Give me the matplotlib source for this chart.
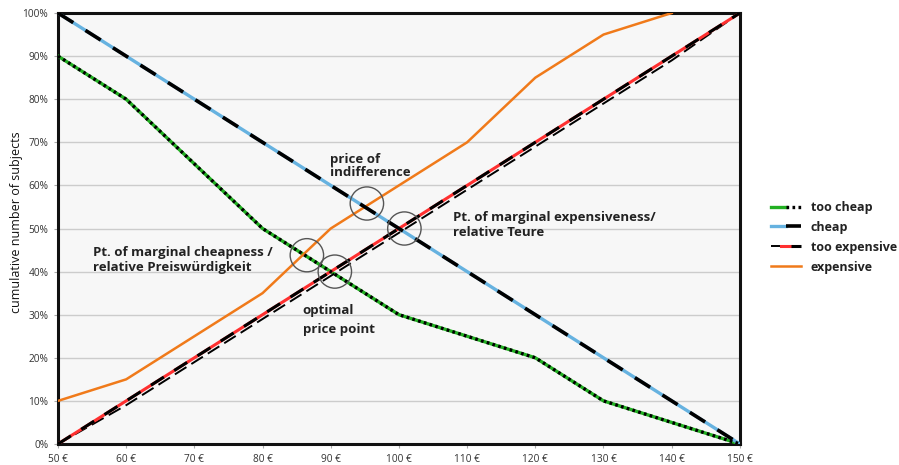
import matplotlib
matplotlib.use("Agg")
import matplotlib.pyplot as plt
from matplotlib.patches import Ellipse
from matplotlib.legend_handler import HandlerTuple

prices = [50, 60, 70, 80, 90, 100, 110, 120, 130, 140, 150]
too_cheap = [90, 80, 65, 50, 40, 30, 25, 20, 10, 5, 0]
cheap = [100, 90, 80, 70, 60, 50, 40, 30, 20, 10, 0]
too_expensive = [0, 10, 20, 30, 40, 50, 60, 70, 80, 90, 100]
too_expensive_shadow = [0, 9, 19, 29, 39, 49, 59, 69, 79, 89, 100]
exp_prices = [50, 60, 70, 80, 90, 100, 110, 120, 130, 140]
expensive = [10, 15, 25, 35, 50, 60, 70, 85, 95, 100]

xticks = [50, 60, 70, 80, 90, 100, 110, 120, 130, 140, 150]
xticklabels = [f"{v} €" for v in xticks]
yticks = list(range(0, 101, 10))
yticklabels = [f"{v}%" for v in yticks]

circles = [(95.3, 55.8), (100.8, 50), (86.5, 43.8), (90.6, 40)]

plt.rcParams['font.family'] = ['Open Sans', 'DejaVu Sans']

fig = plt.figure(figsize=(8.99, 4.65), dpi=100)
ax = fig.add_axes([0.0645, 0.0452, 0.7585, 0.9268])
ax.set_facecolor('#f7f7f7')

green = '#22b022'
blue = '#66b2e0'
red = '#ff3030'
orange = '#f07a1a'

l1a, = ax.plot(prices, too_cheap, color=green, lw=2.4, zorder=3)
l1b, = ax.plot(prices, too_cheap, color='black', lw=2.4, ls=(0, (0.8, 1.0)), zorder=4)

l2a, = ax.plot(prices, cheap, color=blue, lw=2.4, zorder=3)
l2b, = ax.plot(prices, cheap, color='black', lw=2.6, ls=(0, (5, 4)), zorder=4)

l3c, = ax.plot(prices, too_expensive_shadow, color='black', lw=1.4, ls=(0, (7, 3)), zorder=3)
l3a, = ax.plot(prices, too_expensive, color=red, lw=2.2, zorder=3)
l3b, = ax.plot(prices, too_expensive, color='black', lw=2.2, ls=(0, (5, 4)), zorder=4)

l4, = ax.plot(exp_prices, expensive, color=orange, lw=1.8, zorder=3)

for (cx, cy) in circles:
    ax.add_patch(Ellipse((cx, cy), width=4.9, height=7.7, fill=False,
                         edgecolor='#555555', lw=1.0, zorder=5))

ax.set_xlim(50, 150)
ax.set_ylim(0, 100)
ax.set_xticks(xticks)
ax.set_xticklabels(xticklabels, fontsize=7.3, color='#333333')
ax.set_yticks(yticks)
ax.set_yticklabels(yticklabels, fontsize=7.3, color='#333333')
ax.tick_params(axis='both', length=3, color='#aaaaaa', pad=4)
ax.grid(axis='y', color='#cccccc', lw=1.0, zorder=0)
ax.set_axisbelow(True)
for s in ax.spines.values():
    s.set_linewidth(2.2)
    s.set_color('#111111')

ax.set_ylabel('cumulative number of subjects', fontsize=9, color='#111111')
ax.yaxis.set_label_coords(-0.051, 0.515)

tk = dict(fontsize=9.5, fontweight='bold', color='#222222', zorder=6)
ax.text(89.9, 61.5, 'price of\nindifference', va='bottom', ha='left', linespacing=1.0, **tk)
ax.text(107.9, 47.5, 'Pt. of marginal expensiveness/\nrelative Teure', va='bottom', ha='left', linespacing=1.2, **tk)
ax.text(55.1, 39.5, 'Pt. of marginal cheapness /\nrelative Preiswürdigkeit', va='bottom', ha='left', linespacing=1.2, **tk)
ax.text(85.9, 25.0, 'optimal\nprice point', va='bottom', ha='left', linespacing=1.6, **tk)

leg = fig.legend([(l1a, l1b), (l2a, l2b), (l3c, l3a, l3b), l4],
                 ['too cheap', 'cheap', 'too expensive', 'expensive'],
                 handler_map={tuple: HandlerTuple(ndivide=None, pad=0)},
                 loc='upper left', bbox_to_anchor=(0.845, 0.592), frameon=False,
                 fontsize=9, handlelength=2.4, labelspacing=0.55, handletextpad=0.8)
for t in leg.get_texts():
    t.set_fontweight('bold')
    t.set_color('#222222')

fig.savefig('out.png', dpi=100)
